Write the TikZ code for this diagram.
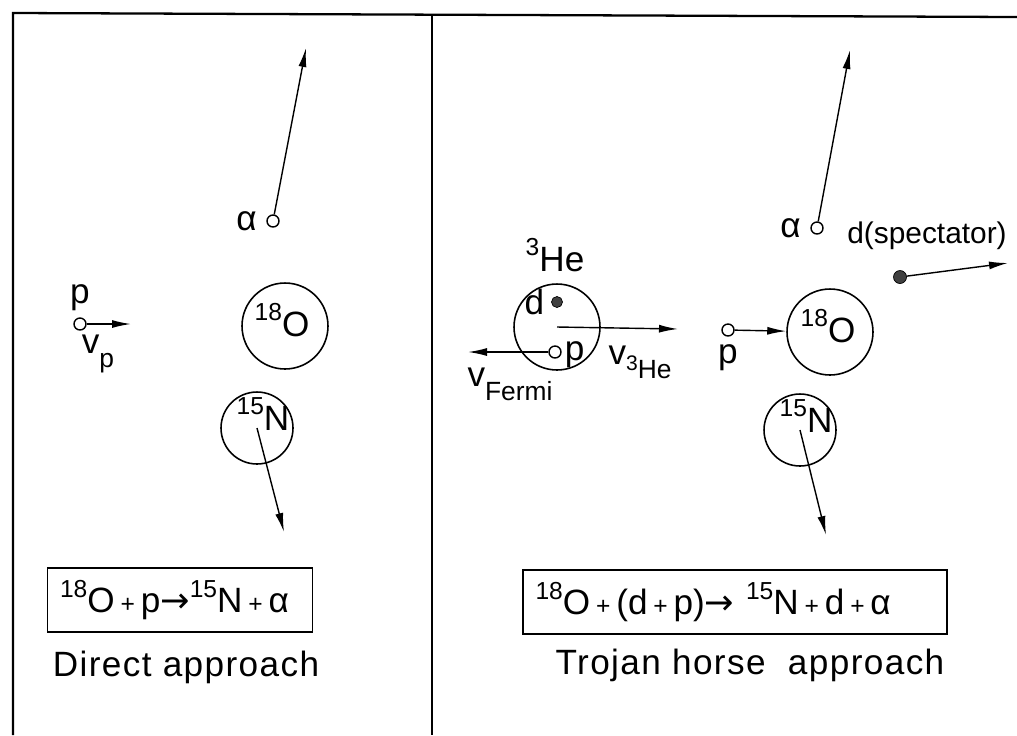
\documentclass[tikz,border=0pt]{standalone}
\usepackage{fontspec}
\setmainfont{Liberation Sans}
\newfontfamily\arrowfont{DejaVu Sans}
\usepackage{tikz}
\usetikzlibrary{arrows.meta, positioning}

\newcommand{\iso}[2]{\raisebox{0.45em}{\fontsize{14}{14}\selectfont #1}#2}
\newcommand{\lowsub}[1]{\raisebox{-0.4em}{\fontsize{15}{15}\selectfont #1}}
\newcommand{\pls}{\,{\fontsize{14}{14}\selectfont +}\,}

\begin{document}
\begin{tikzpicture}[
    x=0.02cm, y=-0.02cm,
    font=\fontsize{20}{24}\selectfont,
    >={Latex[length=3.8mm,width=1.6mm]},
    frame/.style={line width=1.3pt},
    nucleus/.style={circle, draw, line width=0.9pt, inner sep=0pt},
    light/.style={circle, draw, line width=0.8pt, minimum size=0.24cm, inner sep=0pt},
    heavy/.style={circle, draw, fill=black!75, minimum size=0.26cm, inner sep=0pt},
    lbl/.style={inner sep=1pt},
    track/.style={->, line width=0.8pt},
    eqbox/.style={draw, line width=0.9pt, align=left, inner xsep=0.25cm, minimum height=1.28cm},
    caption/.style={inner sep=1pt, font=\fontsize{20}{24}\selectfont\addfontfeature{LetterSpace=4}}
]
\useasboundingbox (0,0) rectangle (1017,735);

% Frame
\draw[frame] (13,735) -- (13,13) -- (1017,17);
\draw[frame] (432,14) -- (432,735);

% Direct approach (left panel)
\node[light] (alphaL) at (273,221) {};
\node[lbl, left=0.15cm of alphaL] {α};
\coordinate (alphaLend) at (306,48);
\node[light] (pL) at (80,324) {};
\node[lbl, above=0.08cm of pL] {p};
\coordinate (pLend) at (131,324);
\node[lbl] at (98,354) {v\lowsub{p}};
\node[nucleus, minimum size=1.72cm] (oxyL) at (285,326) {};
\node[lbl] at (282,320) {\iso{18}{O}};
\node[nucleus, minimum size=1.44cm] (nitL) at (257,428) {};
\node[lbl] at (263,414) {\iso{15}{N}};
\coordinate (nitLend) at (284,532);
\node[eqbox, text width=4.8cm] (boxL) at (180,600) {\iso{18}{O}\pls p{\arrowfont →}\iso{15}{N}\pls α};
\node[caption, below=0.32cm of boxL, xshift=0.12cm] (capL) {Direct approach};

\draw[track] (alphaL) -- (alphaLend);
\draw[track] (pL) -- (pLend);
\draw[track] (nitL.center) -- (nitLend);

% Trojan horse approach (right panel)
\node[lbl] at (555,255) {\iso{3}{He}};
\node[nucleus, minimum size=1.72cm] (he3) at (557,327) {};
\node[heavy, minimum size=0.22cm] (dIn) at (557,302) {};
\node[lbl, left=0.1cm of dIn] {d};
\node[light] (pIn) at (555,352) {};
\node[lbl, right=0.02cm of pIn, yshift=-0.05cm] {p};
\coordinate (he3end) at (678,329);
\coordinate (pInend) at (468,352);
\node[lbl] at (510,384) {v\lowsub{Fermi}};
\node[lbl] at (640,362) {v\lowsub{\raisebox{0.3em}{\fontsize{12}{12}\selectfont 3}He}};

\node[light] (alphaR) at (817,228) {};
\node[lbl, left=0.15cm of alphaR] {α};
\coordinate (alphaRend) at (850,50);
\node[lbl, font=\fontsize{17}{20}\selectfont] at (927,236) {d(spectator)};
\node[heavy] (specR) at (900,277) {};
\coordinate (specRend) at (1008,263);
\node[light] (pR) at (728,330) {};
\node[lbl, below=0.12cm of pR] {p};
\node[nucleus, minimum size=1.72cm] (oxyR) at (830,332) {};
\node[lbl] at (828,326) {\iso{18}{O}};
\node[nucleus, minimum size=1.44cm] (nitR) at (800,430) {};
\node[lbl] at (806,416) {\iso{15}{N}};
\coordinate (nitRend) at (826,535);
\node[eqbox, text width=7.98cm] (boxR) at (735,602) {\iso{18}{O}\pls(d\pls p){\arrowfont →} \iso{15}{N}\pls d\pls α};
\node[caption, below=0.25cm of boxR, xshift=0.3cm] (capR) {Trojan horse \ approach};

\draw[track] (he3.center) -- (he3end);
\draw[track] (pIn) -- (pInend);
\draw[track] (alphaR) -- (alphaRend);
\draw[track] (specR) -- (specRend);
\draw[track] (pR) -- (oxyR);
\draw[track] (nitR.center) -- (nitRend);

\end{tikzpicture}
\end{document}
